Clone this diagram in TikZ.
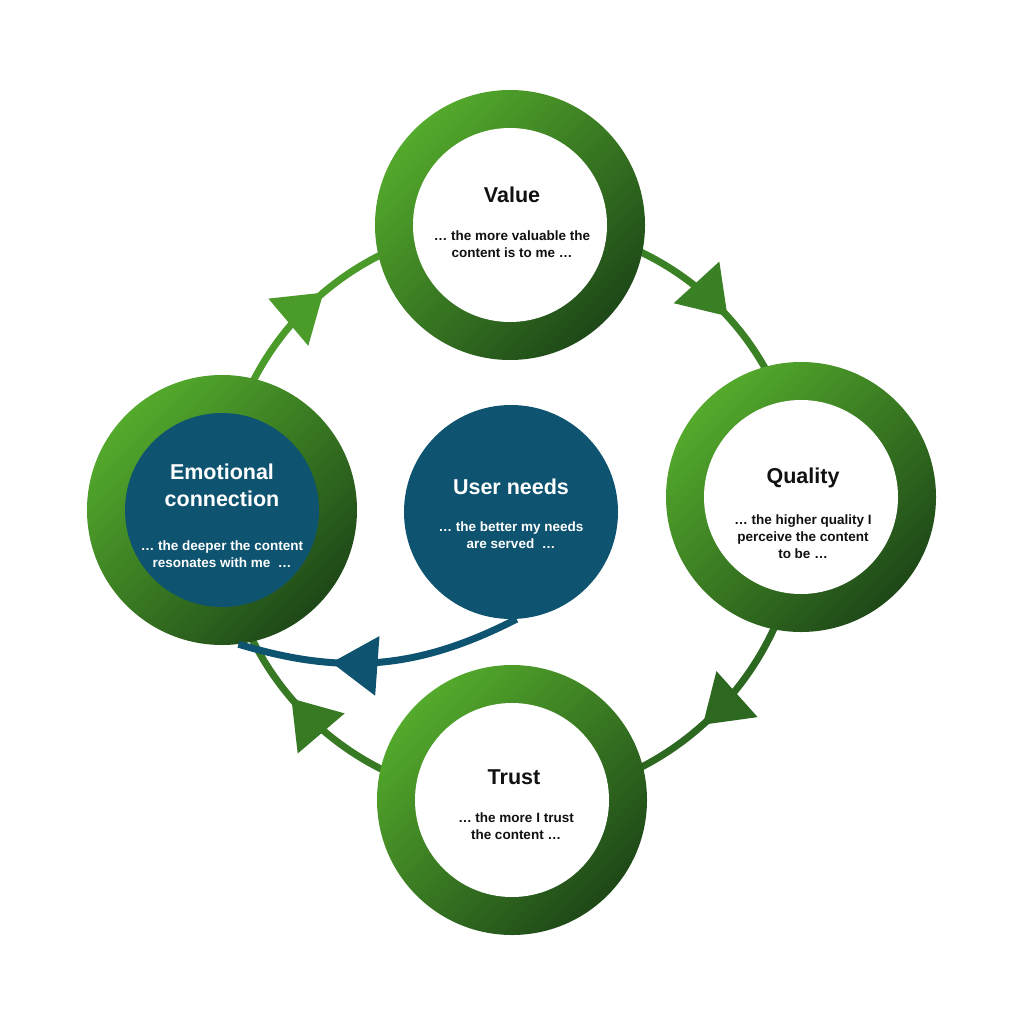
\documentclass[tikz,border=0pt]{standalone}
\usepackage{fontspec}
\setmainfont{Liberation Sans}
\usetikzlibrary{arrows.meta,decorations.markings,backgrounds}
\definecolor{gLight}{RGB}{84,170,44}
\definecolor{gDark}{RGB}{30,72,24}
\definecolor{gA}{RGB}{74,155,42}
\definecolor{gB}{RGB}{58,128,36}
\definecolor{gC}{RGB}{44,104,32}
\definecolor{gD}{RGB}{56,122,36}
\definecolor{navy}{RGB}{14,84,112}
\definecolor{ink}{RGB}{17,17,17}
\tikzset{
  ring/.style={circle, minimum size=270pt, inner sep=0pt, shading=axis,
    left color=gLight, right color=gDark, shading angle=45},
  hole/.style={circle, fill=white, minimum size=194pt, inner sep=0pt},
  bluehole/.style={circle, fill=navy, minimum size=194pt, inner sep=0pt},
  bluedisc/.style={circle, fill=navy, minimum size=214pt, inner sep=0pt},
  ttl/.style={align=center, inner sep=0pt, text=ink,
    font=\fontsize{21.5}{27}\selectfont\bfseries},
  bdy/.style={align=center, inner sep=0pt, text=ink,
    font=\fontsize{13.5}{17}\selectfont\bfseries},
  garc/.style={line width=7pt, draw=#1, postaction={decorate},
    decoration={markings, mark=at position 0.55 with
      {\arrow[#1]{Triangle[length=46pt,width=60pt]}}}},
  barc/.style={line width=7pt, draw=navy, postaction={decorate},
    decoration={markings, mark=at position 0.67 with
      {\arrow[navy]{Triangle[length=46pt,width=58pt]}}}},
}
\begin{document}
\begin{tikzpicture}[x=1pt,y=-1pt]
\useasboundingbox (0,0) rectangle (1024,1024);

% Value
\node[ring] (val) at (510,225) {};
\node[hole] (valin) at (val.center) {};
\node[ttl] (valT) at (512,195) {Value};
\node[bdy] (valB) at (512,244) {… the more valuable the\\content is to me …};

% Quality
\node[ring] (qual) at (801,497) {};
\node[hole] (qualin) at (qual.center) {};
\node[ttl] (qualT) at (803,478) {Quality};
\node[bdy] (qualB) at (803,537) {… the higher quality I\\perceive the content\\to be …};

% Trust
\node[ring] (trust) at (512,800) {};
\node[hole] (trustin) at (trust.center) {};
\node[ttl] (trustT) at (514,777) {Trust};
\node[bdy] (trustB) at (516,826) {… the more I trust\\the content …};

% Emotional connection
\node[ring] (emo) at (222,510) {};
\node[bluehole] (emoin) at (emo.center) {};
\node[ttl, text=white] (emoT) at (222,485) {Emotional\\connection};
\node[bdy, text=white] (emoB) at (222,554) {… the deeper the content\\resonates with me\ \ …};

% User needs
\node[bluedisc] (un) at (511,512) {};
\node[ttl, text=white] (unT) at (511,487) {User needs};
\node[bdy, text=white] (unB) at (511,535) {… the better my needs\\are served\ \ …};

\begin{pgfonlayer}{background}
\fill[white] (0,0) rectangle (1024,1024);
\draw[garc=gA] (emo.center) to[bend left=45] (val.center);
\draw[garc=gB] (val.center) to[bend left=45] (qual.center);
\draw[garc=gC] (qual.center) to[bend left=45] (trust.center);
\draw[garc=gD] (trust.center) to[bend left=45] (emo.center);
\end{pgfonlayer}
\draw[barc] (un.-87) to[bend left=22] (emo.-83);
\end{tikzpicture}
\end{document}
